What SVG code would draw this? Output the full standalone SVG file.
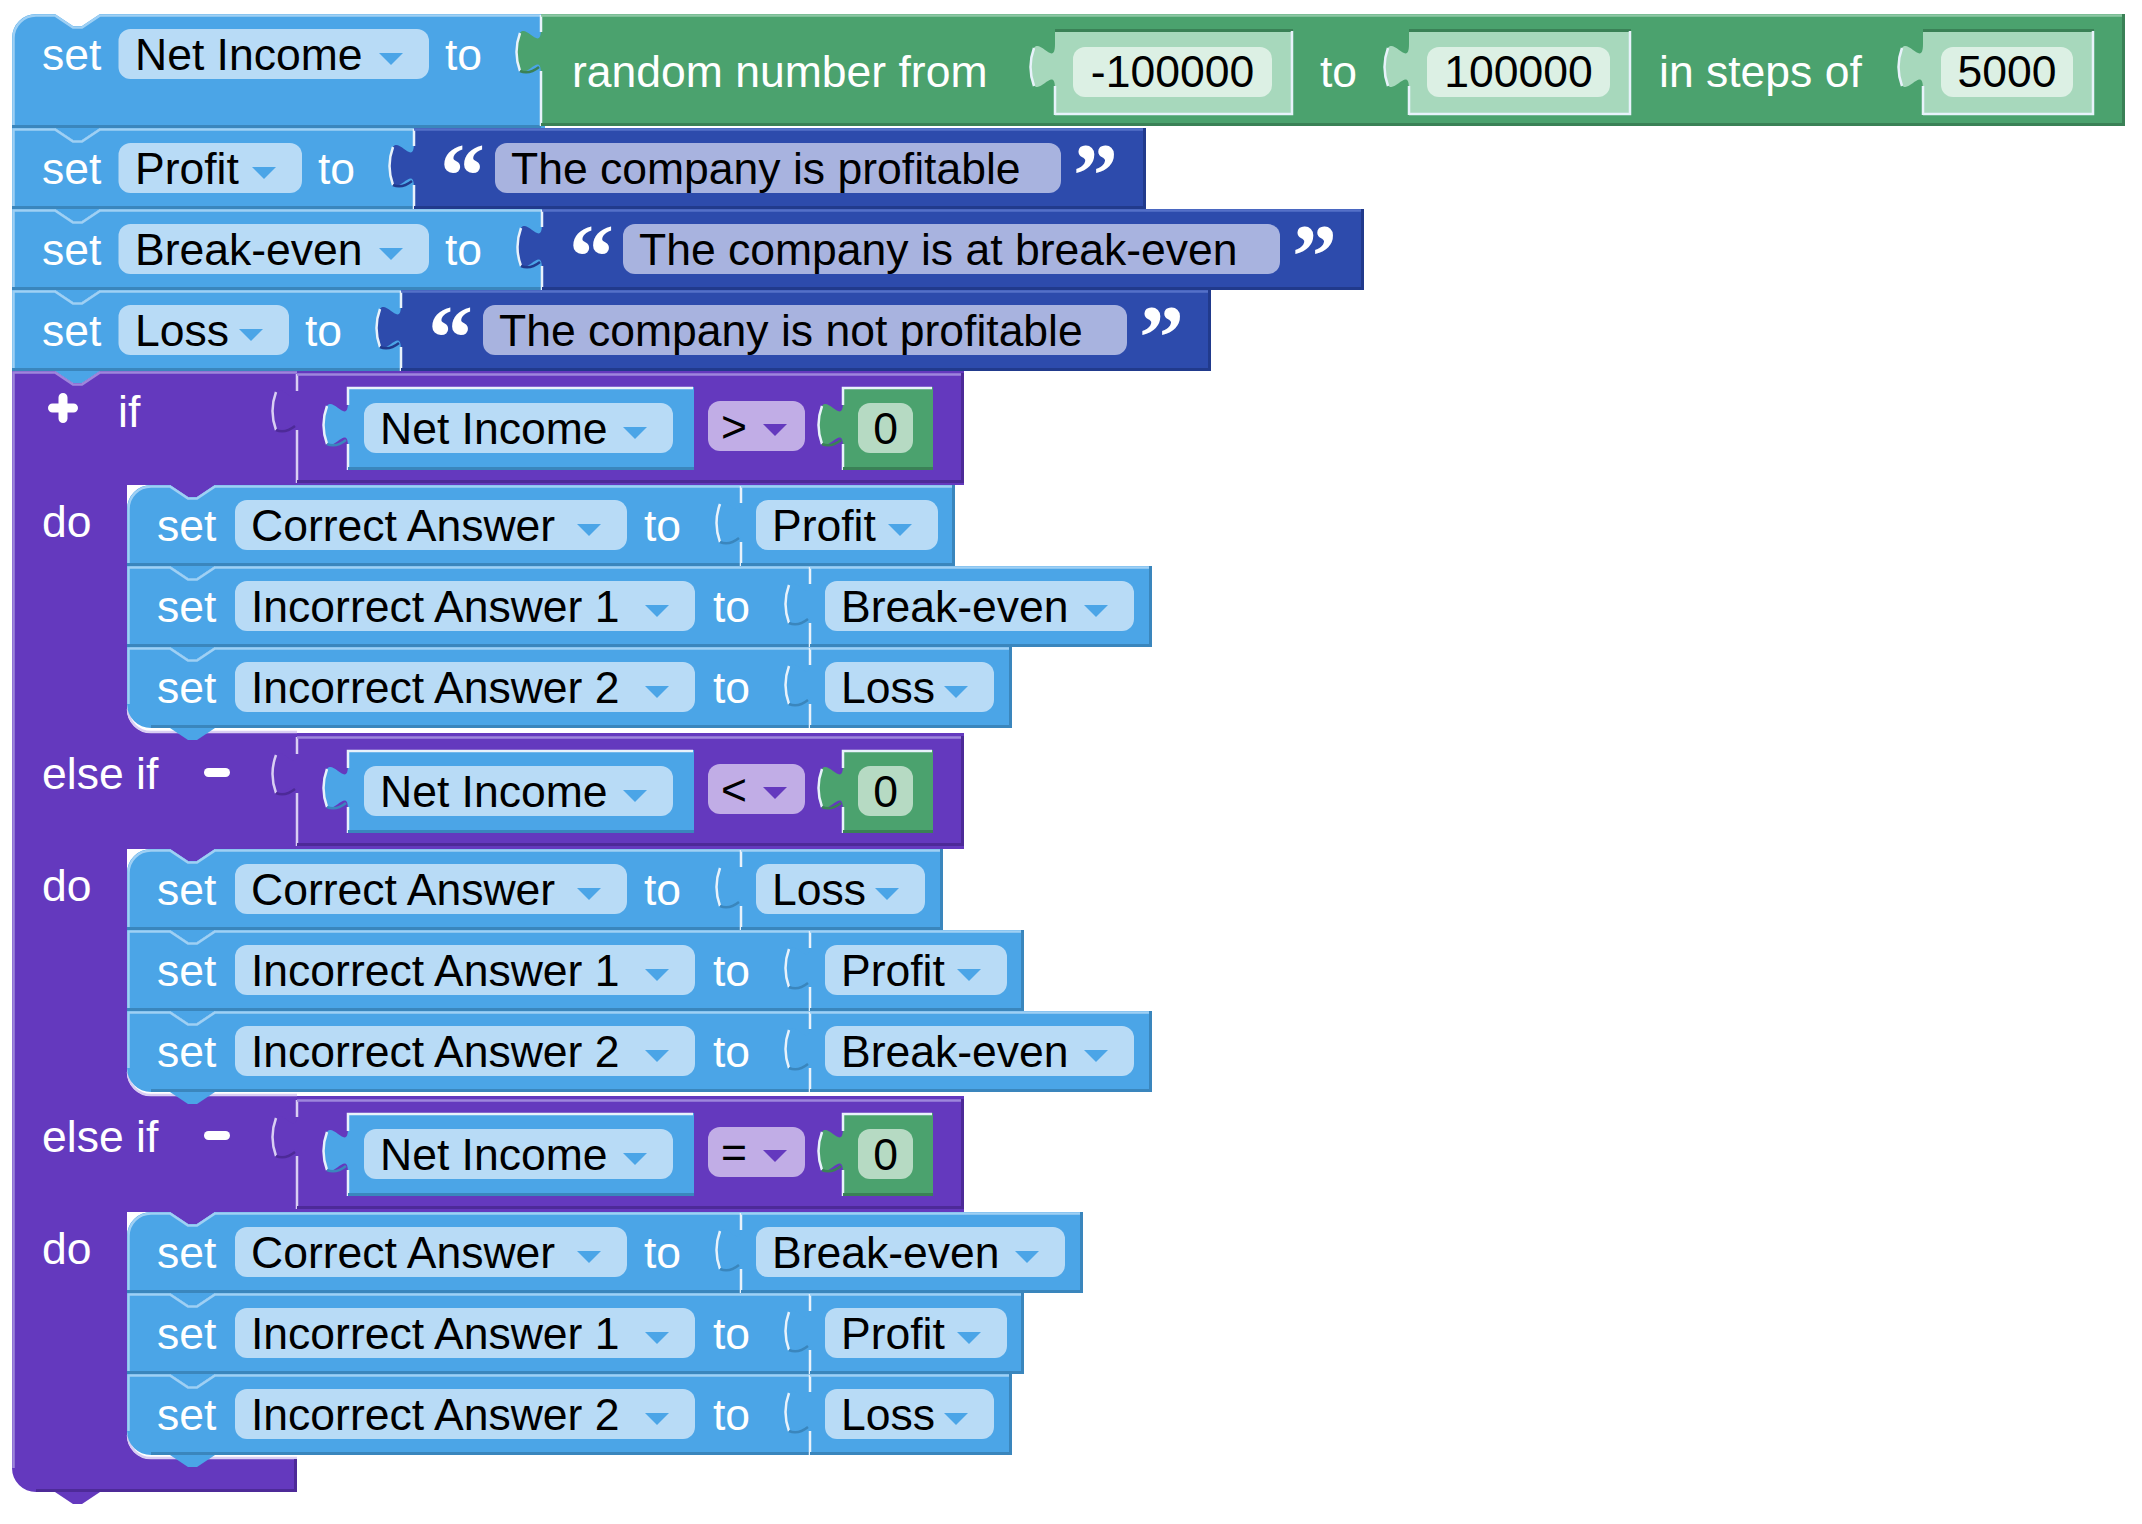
<svg xmlns="http://www.w3.org/2000/svg" width="2142" height="1524" viewBox="0 0 2142 1524">
<style>
text{font-family:"Liberation Sans",Arial,Helvetica,sans-serif;font-size:44.5px}
.w{fill:#fff}
.k{fill:#000}
.q{font-family:"Liberation Serif","Times New Roman",serif;font-weight:bold;font-size:90px;fill:#fff}
.bl{fill:#4BA5E7}
.bf{fill:#B8DBF6}
.st{fill:#2D4BAC}
.sf{fill:#A8B3DF}
.gr{fill:#4BA26E}
.sh{fill:#A7D8BC}
.shf{fill:#DCF0E4}
.pu{fill:#6439BE}
.op{fill:#C1ADE6}
.zf{fill:#B6DAC3}
.hl{fill:none;stroke-width:2.5}
.hb{stroke:#9FD0F4}
.hp{stroke:#9E86DC}
.hs{stroke:#5570C8}
.hg{stroke:#8CC7A4}
.hw{fill:none;stroke:#E8F2FB;stroke-width:2.5}
.hwp{fill:none;stroke:#D9CEF3;stroke-width:2.5}
.db{fill:none;stroke:#3A86BD;stroke-width:3}
.dp{fill:none;stroke:#4D2A98;stroke-width:3}
.ds{fill:none;stroke:#213A8C;stroke-width:3}
.dg{fill:none;stroke:#3A8156;stroke-width:3}
.ic{fill:none;stroke:#fff;stroke-width:9;stroke-linecap:round}
.tm{text-anchor:middle}
.tb{fill:#4BA5E7}
.tp{fill:#6439BE}
</style>
<defs>
<path id="tri" d="M0,0 H24 L12,12 Z"/>
</defs>
<g id="connectors"></g>

<g id="set-net-income">
<path class="bl" d="M12,38 A24,24 0 0 1 36,14 H55 l18,12 9,0 18,-12 H545 V128 H100 l-18,12 -9,0 -18,-12 H12 Z"/>
<path class="hl hb" d="M13.5,128 V38 A22.5,22.5 0 0 1 36,15.5 H55 l18,12 9,0 18,-12 H541"/>
<path class="db" d="M12,126.5 H541"/>
<text class="w" x="42" y="70">set</text>
<rect class="bf" x="118.5" y="29" width="310.5" height="50" rx="12"/>
<text class="k" x="135" y="70">Net Income</text>
<use href="#tri" x="379" y="53" class="tb"/>
<text class="w" x="445" y="70">to</text>
</g>

<g id="random-number">
<path class="gr" d="M541,14 H2125 V126 H541 V74 c0,-30 -24,25.5 -24,-22.5 s24,7.5 24,-22.5 Z"/>
<path class="hw" d="M541,126 V71 M520,71 Q513,52 520,33 M541,32 V15"/>
<path class="dg" style="stroke-width:2.5" d="M520,71 Q529,75 539,67"/>
<path class="hl hg" d="M541,15.5 H2124"/>
<path class="dg" d="M541,124.5 H2125 M2123.5,14 V126"/>
<text class="w" x="572" y="87">random number from</text>
<path class="sh" d="M1055,29 H1293 V115 H1055 V89 c0,-30 -24,25.5 -24,-22.5 s24,7.5 24,-22.5 Z"/>
<path class="dg" d="M1055,30.5 H1293"/>
<path class="hw" d="M1055,115 V86 M1034,86 Q1027,67 1034,48 M1055,114 H1292 V31"/>
<rect class="shf" x="1073" y="47" width="199" height="50" rx="12"/>
<text class="k tm" x="1172.5" y="87">-100000</text>
<text class="w" x="1320" y="87">to</text>
<path class="sh" d="M1409,29 H1631 V115 H1409 V89 c0,-30 -24,25.5 -24,-22.5 s24,7.5 24,-22.5 Z"/>
<path class="dg" d="M1409,30.5 H1631"/>
<path class="hw" d="M1409,115 V86 M1388,86 Q1381,67 1388,48 M1409,114 H1630 V31"/>
<rect class="shf" x="1427" y="47" width="183" height="50" rx="12"/>
<text class="k tm" x="1518.5" y="87">100000</text>
<text class="w" x="1659" y="87">in steps of</text>
<path class="sh" d="M1923,29 H2094 V115 H1923 V89 c0,-30 -24,25.5 -24,-22.5 s24,7.5 24,-22.5 Z"/>
<path class="dg" d="M1923,30.5 H2094"/>
<path class="hw" d="M1923,115 V86 M1902,86 Q1895,67 1902,48 M1923,114 H2093 V31"/>
<rect class="shf" x="1941" y="47" width="132" height="50" rx="12"/>
<text class="k tm" x="2007" y="87">5000</text>
</g>

<g id="set-profit">
<path class="bl" d="M12,128 H55 l18,12 9,0 18,-12 H418 V209 H100 l-18,12 -9,0 -18,-12 H12 Z"/>
<path class="hl hb" d="M13.5,209 V129.5 H55 l18,12 9,0 18,-12 H414"/>
<path class="db" d="M12,207.5 H414"/>
<text class="w" x="42" y="184">set</text>
<rect class="bf" x="118.5" y="143" width="183.5" height="50" rx="12"/>
<text class="k" x="135" y="184">Profit</text>
<use href="#tri" x="252" y="167" class="tb"/>
<text class="w" x="318" y="184">to</text>
</g>
<g id="text-profitable">
<path class="st" d="M414,128 H1146 V209 H414 V188 c0,-30 -24,25.5 -24,-22.5 s24,7.5 24,-22.5 Z"/>
<path class="hw" d="M414,209 V185 M393,185 Q386,166 393,147 M414,146 V129"/>
<path class="ds" style="stroke-width:2.5" d="M393,185 Q402,189 412,181"/>
<path class="hl hs" d="M414,129.5 H1145"/>
<path class="ds" d="M414,207.5 H1146 M1144.5,128 V209"/>
<text class="q" x="440" y="206">“</text>
<rect class="sf" x="495" y="143" width="566" height="50" rx="12"/>
<text class="k" x="511" y="184">The company is profitable</text>
<text class="q" x="1073" y="206">”</text>
</g>

<g id="set-break-even">
<path class="bl" d="M12,209 H55 l18,12 9,0 18,-12 H546 V290 H100 l-18,12 -9,0 -18,-12 H12 Z"/>
<path class="hl hb" d="M13.5,290 V210.5 H55 l18,12 9,0 18,-12 H542"/>
<path class="db" d="M12,288.5 H542"/>
<text class="w" x="42" y="265">set</text>
<rect class="bf" x="118.5" y="224" width="310.5" height="50" rx="12"/>
<text class="k" x="135" y="265">Break-even</text>
<use href="#tri" x="379" y="248" class="tb"/>
<text class="w" x="445" y="265">to</text>
</g>
<g id="text-break-even">
<path class="st" d="M542,209 H1364 V290 H542 V269 c0,-30 -24,25.5 -24,-22.5 s24,7.5 24,-22.5 Z"/>
<path class="hw" d="M542,290 V266 M521,266 Q514,247 521,228 M542,227 V210"/>
<path class="ds" style="stroke-width:2.5" d="M521,266 Q530,270 540,262"/>
<path class="hl hs" d="M542,210.5 H1363"/>
<path class="ds" d="M542,288.5 H1364 M1362.5,209 V290"/>
<text class="q" x="569" y="287">“</text>
<rect class="sf" x="623" y="224" width="657" height="50" rx="12"/>
<text class="k" x="639" y="265">The company is at break-even</text>
<text class="q" x="1292" y="287">”</text>
</g>

<g id="set-loss">
<path class="bl" d="M12,290 H55 l18,12 9,0 18,-12 H405 V371 H100 l-18,12 -9,0 -18,-12 H12 Z"/>
<path class="hl hb" d="M13.5,371 V291.5 H55 l18,12 9,0 18,-12 H401"/>
<path class="db" d="M12,369.5 H401"/>
<text class="w" x="42" y="346">set</text>
<rect class="bf" x="118.5" y="305" width="170.5" height="50" rx="12"/>
<text class="k" x="135" y="346">Loss</text>
<use href="#tri" x="239" y="329" class="tb"/>
<text class="w" x="305" y="346">to</text>
</g>
<g id="text-not-profitable">
<path class="st" d="M401,290 H1211 V371 H401 V350 c0,-30 -24,25.5 -24,-22.5 s24,7.5 24,-22.5 Z"/>
<path class="hw" d="M401,371 V347 M380,347 Q373,328 380,309 M401,308 V291"/>
<path class="ds" style="stroke-width:2.5" d="M380,347 Q389,351 399,343"/>
<path class="hl hs" d="M401,291.5 H1210"/>
<path class="ds" d="M401,369.5 H1211 M1209.5,290 V371"/>
<text class="q" x="428" y="368">“</text>
<rect class="sf" x="483" y="305" width="644" height="50" rx="12"/>
<text class="k" x="499" y="346">The company is not profitable</text>
<text class="q" x="1139" y="368">”</text>
</g>

<g id="if-block">
<path class="pu" d="M12,371 H55 l18,12 9,0 18,-12 H964 V485 H215 l-18,12 -9,0 -18,-12 H127 V709 a24,24 0 0 0 24,24 H964 V849 H215 l-18,12 -9,0 -18,-12 H127 V1072 a24,24 0 0 0 24,24 H964 V1212 H215 l-18,12 -9,0 -18,-12 H127 V1435 a24,24 0 0 0 24,24 H297 V1492 H100 l-18,12 -9,0 -18,-12 H36 a24,24 0 0 1 -24,-24 Z"/>
<path class="hl hp" d="M13.5,1468 V372.5 H55 l18,12 9,0 18,-12 H297"/>
<path class="hwp" d="M128,709 a23,23 0 0 0 23,23 H297 M128,1072 a23,23 0 0 0 23,23 H297 M128,1435 a23,23 0 0 0 23,23 H297"/>
<path class="dp" d="M36,1490.5 H297 M295.5,1459 V1492"/>
<path class="ic" d="M52.5,408 H73.5 M63,397.5 V418.5"/>
<text class="w" x="118" y="427">if</text>
<text class="w" x="42" y="537">do</text>
<text class="w" x="42" y="789">else if</text>
<path class="ic" d="M208.5,772.5 H225.5"/>
<text class="w" x="42" y="901">do</text>
<text class="w" x="42" y="1152">else if</text>
<path class="ic" d="M208.5,1135.5 H225.5"/>
<text class="w" x="42" y="1264">do</text>
</g>

<g id="compare-gt">
<path class="pu" d="M297,373 H964 V483 H297 V433 c0,-30 -24,25.5 -24,-22.5 s24,7.5 24,-22.5 Z"/>
<path class="hwp" d="M297,483 V430 M276,430 Q269,411 276,392 M297,391 V374"/>
<path class="dp" style="stroke-width:2.5" d="M276,430 Q285,434 295,426"/>
<path class="hl hp" d="M297,374.5 H963"/>
<path class="dp" d="M297,481.5 H964 M962.5,373 V483"/>
<path class="bl" d="M348,387 H694 V470 H348 V447 c0,-30 -24,25.5 -24,-22.5 s24,7.5 24,-22.5 Z"/>
<path class="hw" d="M348,470 V444 M327,444 Q320,425 327,406 M348,405 V388 H693"/>
<path class="db" style="stroke-width:2.5" d="M327,444 Q336,448 346,440"/>
<path class="db" d="M348,468.5 H694"/>
<rect class="bf" x="364" y="403" width="309" height="50" rx="12"/>
<text class="k" x="380" y="444">Net Income</text>
<use href="#tri" x="623" y="427" class="tb"/>
<rect class="op" x="708" y="401" width="97" height="50" rx="12"/>
<text class="k" x="721" y="442">&gt;</text>
<use href="#tri" x="763" y="424" class="tp"/>
<path class="gr" d="M843,387 H933 V470 H843 V447 c0,-30 -24,25.5 -24,-22.5 s24,7.5 24,-22.5 Z"/>
<path class="hw" d="M843,470 V444 M822,444 Q815,425 822,406 M843,405 V388 H932"/>
<path class="dg" style="stroke-width:2.5" d="M822,444 Q831,448 841,440"/>
<path class="dg" d="M843,468.5 H933"/>
<rect class="zf" x="858" y="403" width="55" height="50" rx="12"/>
<text class="k tm" x="885.5" y="444">0</text>
</g>

<g id="compare-lt">
<path class="pu" d="M297,736 H964 V846 H297 V796 c0,-30 -24,25.5 -24,-22.5 s24,7.5 24,-22.5 Z"/>
<path class="hwp" d="M297,846 V793 M276,793 Q269,774 276,755 M297,754 V737"/>
<path class="dp" style="stroke-width:2.5" d="M276,793 Q285,797 295,789"/>
<path class="hl hp" d="M297,737.5 H963"/>
<path class="dp" d="M297,844.5 H964 M962.5,736 V846"/>
<path class="bl" d="M348,750 H694 V833 H348 V810 c0,-30 -24,25.5 -24,-22.5 s24,7.5 24,-22.5 Z"/>
<path class="hw" d="M348,833 V807 M327,807 Q320,788 327,769 M348,768 V751 H693"/>
<path class="db" style="stroke-width:2.5" d="M327,807 Q336,811 346,803"/>
<path class="db" d="M348,831.5 H694"/>
<rect class="bf" x="364" y="766" width="309" height="50" rx="12"/>
<text class="k" x="380" y="807">Net Income</text>
<use href="#tri" x="623" y="790" class="tb"/>
<rect class="op" x="708" y="764" width="97" height="50" rx="12"/>
<text class="k" x="721" y="805">&lt;</text>
<use href="#tri" x="763" y="787" class="tp"/>
<path class="gr" d="M843,750 H933 V833 H843 V810 c0,-30 -24,25.5 -24,-22.5 s24,7.5 24,-22.5 Z"/>
<path class="hw" d="M843,833 V807 M822,807 Q815,788 822,769 M843,768 V751 H932"/>
<path class="dg" style="stroke-width:2.5" d="M822,807 Q831,811 841,803"/>
<path class="dg" d="M843,831.5 H933"/>
<rect class="zf" x="858" y="766" width="55" height="50" rx="12"/>
<text class="k tm" x="885.5" y="807">0</text>
</g>

<g id="compare-eq">
<path class="pu" d="M297,1099 H964 V1209 H297 V1159 c0,-30 -24,25.5 -24,-22.5 s24,7.5 24,-22.5 Z"/>
<path class="hwp" d="M297,1209 V1156 M276,1156 Q269,1137 276,1118 M297,1117 V1100"/>
<path class="dp" style="stroke-width:2.5" d="M276,1156 Q285,1160 295,1152"/>
<path class="hl hp" d="M297,1100.5 H963"/>
<path class="dp" d="M297,1207.5 H964 M962.5,1099 V1209"/>
<path class="bl" d="M348,1113 H694 V1196 H348 V1173 c0,-30 -24,25.5 -24,-22.5 s24,7.5 24,-22.5 Z"/>
<path class="hw" d="M348,1196 V1170 M327,1170 Q320,1151 327,1132 M348,1131 V1114 H693"/>
<path class="db" style="stroke-width:2.5" d="M327,1170 Q336,1174 346,1166"/>
<path class="db" d="M348,1194.5 H694"/>
<rect class="bf" x="364" y="1129" width="309" height="50" rx="12"/>
<text class="k" x="380" y="1170">Net Income</text>
<use href="#tri" x="623" y="1153" class="tb"/>
<rect class="op" x="708" y="1127" width="97" height="50" rx="12"/>
<text class="k" x="721" y="1168">=</text>
<use href="#tri" x="763" y="1150" class="tp"/>
<path class="gr" d="M843,1113 H933 V1196 H843 V1173 c0,-30 -24,25.5 -24,-22.5 s24,7.5 24,-22.5 Z"/>
<path class="hw" d="M843,1196 V1170 M822,1170 Q815,1151 822,1132 M843,1131 V1114 H932"/>
<path class="dg" style="stroke-width:2.5" d="M822,1170 Q831,1174 841,1166"/>
<path class="dg" d="M843,1194.5 H933"/>
<rect class="zf" x="858" y="1129" width="55" height="50" rx="12"/>
<text class="k tm" x="885.5" y="1170">0</text>
</g>

<g id="do1-correct">
<path class="bl" d="M127,509 a24,24 0 0 1 24,-24 H170 l18,12 9,0 18,-12 H745 V566 H215 l-18,12 -9,0 -18,-12 H127 Z"/>
<path class="hl hb" d="M128.5,566 V509 a22.5,22.5 0 0 1 22.5,-22.5 H170 l18,12 9,0 18,-12 H741"/>
<path class="db" d="M127,564.5 H741"/>
<text class="w" x="157" y="541">set</text>
<rect class="bf" x="235" y="500" width="392" height="50" rx="12"/>
<text class="k" x="251" y="541">Correct Answer</text>
<use href="#tri" x="577" y="524" class="tb"/>
<text class="w" x="644" y="541">to</text>
<path class="bl" d="M741,485 H955 V566 H741 V545 c0,-30 -24,25.5 -24,-22.5 s24,7.5 24,-22.5 Z"/>
<path class="hw" d="M741,566 V542 M720,542 Q713,523 720,504 M741,503 V486"/>
<path class="db" style="stroke-width:2.5" d="M720,542 Q729,546 739,538"/>
<path class="hl hb" d="M741,486.5 H954"/>
<path class="db" d="M741,564.5 H955 M953.5,485 V566"/>
<rect class="bf" x="756" y="500" width="182" height="50" rx="12"/>
<text class="k" x="772" y="541">Profit</text>
<use href="#tri" x="888" y="524" class="tb"/>
</g>
<g id="do1-incorrect1">
<path class="bl" d="M127,566 H170 l18,12 9,0 18,-12 H814 V647 H215 l-18,12 -9,0 -18,-12 H127 Z"/>
<path class="hl hb" d="M128.5,647 V567.5 H170 l18,12 9,0 18,-12 H810"/>
<path class="db" d="M127,645.5 H810"/>
<text class="w" x="157" y="622">set</text>
<rect class="bf" x="235" y="581" width="460" height="50" rx="12"/>
<text class="k" x="251" y="622">Incorrect Answer 1</text>
<use href="#tri" x="645" y="605" class="tb"/>
<text class="w" x="713" y="622">to</text>
<path class="bl" d="M810,566 H1152 V647 H810 V626 c0,-30 -24,25.5 -24,-22.5 s24,7.5 24,-22.5 Z"/>
<path class="hw" d="M810,647 V623 M789,623 Q782,604 789,585 M810,584 V567"/>
<path class="db" style="stroke-width:2.5" d="M789,623 Q798,627 808,619"/>
<path class="hl hb" d="M810,567.5 H1151"/>
<path class="db" d="M810,645.5 H1152 M1150.5,566 V647"/>
<rect class="bf" x="825" y="581" width="309" height="50" rx="12"/>
<text class="k" x="841" y="622">Break-even</text>
<use href="#tri" x="1084" y="605" class="tb"/>
</g>
<g id="do1-incorrect2">
<path class="bl" d="M127,647 H170 l18,12 9,0 18,-12 H814 V728 H215 l-18,12 -9,0 -18,-12 H151 a24,24 0 0 1 -24,-24 Z"/>
<path class="hl hb" d="M128.5,704 V648.5 H170 l18,12 9,0 18,-12 H810"/>
<path class="db" d="M151,726.5 H810"/>
<text class="w" x="157" y="703">set</text>
<rect class="bf" x="235" y="662" width="460" height="50" rx="12"/>
<text class="k" x="251" y="703">Incorrect Answer 2</text>
<use href="#tri" x="645" y="686" class="tb"/>
<text class="w" x="713" y="703">to</text>
<path class="bl" d="M810,647 H1012 V728 H810 V707 c0,-30 -24,25.5 -24,-22.5 s24,7.5 24,-22.5 Z"/>
<path class="hw" d="M810,728 V704 M789,704 Q782,685 789,666 M810,665 V648"/>
<path class="db" style="stroke-width:2.5" d="M789,704 Q798,708 808,700"/>
<path class="hl hb" d="M810,648.5 H1011"/>
<path class="db" d="M810,726.5 H1012 M1010.5,647 V728"/>
<rect class="bf" x="825" y="662" width="169" height="50" rx="12"/>
<text class="k" x="841" y="703">Loss</text>
<use href="#tri" x="944" y="686" class="tb"/>
</g>

<g id="do2-correct">
<path class="bl" d="M127,873 a24,24 0 0 1 24,-24 H170 l18,12 9,0 18,-12 H745 V930 H215 l-18,12 -9,0 -18,-12 H127 Z"/>
<path class="hl hb" d="M128.5,930 V873 a22.5,22.5 0 0 1 22.5,-22.5 H170 l18,12 9,0 18,-12 H741"/>
<path class="db" d="M127,928.5 H741"/>
<text class="w" x="157" y="905">set</text>
<rect class="bf" x="235" y="864" width="392" height="50" rx="12"/>
<text class="k" x="251" y="905">Correct Answer</text>
<use href="#tri" x="577" y="888" class="tb"/>
<text class="w" x="644" y="905">to</text>
<path class="bl" d="M741,849 H943 V930 H741 V909 c0,-30 -24,25.5 -24,-22.5 s24,7.5 24,-22.5 Z"/>
<path class="hw" d="M741,930 V906 M720,906 Q713,887 720,868 M741,867 V850"/>
<path class="db" style="stroke-width:2.5" d="M720,906 Q729,910 739,902"/>
<path class="hl hb" d="M741,850.5 H942"/>
<path class="db" d="M741,928.5 H943 M941.5,849 V930"/>
<rect class="bf" x="756" y="864" width="169" height="50" rx="12"/>
<text class="k" x="772" y="905">Loss</text>
<use href="#tri" x="875" y="888" class="tb"/>
</g>
<g id="do2-incorrect1">
<path class="bl" d="M127,930 H170 l18,12 9,0 18,-12 H814 V1011 H215 l-18,12 -9,0 -18,-12 H127 Z"/>
<path class="hl hb" d="M128.5,1011 V931.5 H170 l18,12 9,0 18,-12 H810"/>
<path class="db" d="M127,1009.5 H810"/>
<text class="w" x="157" y="986">set</text>
<rect class="bf" x="235" y="945" width="460" height="50" rx="12"/>
<text class="k" x="251" y="986">Incorrect Answer 1</text>
<use href="#tri" x="645" y="969" class="tb"/>
<text class="w" x="713" y="986">to</text>
<path class="bl" d="M810,930 H1024 V1011 H810 V990 c0,-30 -24,25.5 -24,-22.5 s24,7.5 24,-22.5 Z"/>
<path class="hw" d="M810,1011 V987 M789,987 Q782,968 789,949 M810,948 V931"/>
<path class="db" style="stroke-width:2.5" d="M789,987 Q798,991 808,983"/>
<path class="hl hb" d="M810,931.5 H1023"/>
<path class="db" d="M810,1009.5 H1024 M1022.5,930 V1011"/>
<rect class="bf" x="825" y="945" width="182" height="50" rx="12"/>
<text class="k" x="841" y="986">Profit</text>
<use href="#tri" x="957" y="969" class="tb"/>
</g>
<g id="do2-incorrect2">
<path class="bl" d="M127,1011 H170 l18,12 9,0 18,-12 H814 V1092 H215 l-18,12 -9,0 -18,-12 H151 a24,24 0 0 1 -24,-24 Z"/>
<path class="hl hb" d="M128.5,1068 V1012.5 H170 l18,12 9,0 18,-12 H810"/>
<path class="db" d="M151,1090.5 H810"/>
<text class="w" x="157" y="1067">set</text>
<rect class="bf" x="235" y="1026" width="460" height="50" rx="12"/>
<text class="k" x="251" y="1067">Incorrect Answer 2</text>
<use href="#tri" x="645" y="1050" class="tb"/>
<text class="w" x="713" y="1067">to</text>
<path class="bl" d="M810,1011 H1152 V1092 H810 V1071 c0,-30 -24,25.5 -24,-22.5 s24,7.5 24,-22.5 Z"/>
<path class="hw" d="M810,1092 V1068 M789,1068 Q782,1049 789,1030 M810,1029 V1012"/>
<path class="db" style="stroke-width:2.5" d="M789,1068 Q798,1072 808,1064"/>
<path class="hl hb" d="M810,1012.5 H1151"/>
<path class="db" d="M810,1090.5 H1152 M1150.5,1011 V1092"/>
<rect class="bf" x="825" y="1026" width="309" height="50" rx="12"/>
<text class="k" x="841" y="1067">Break-even</text>
<use href="#tri" x="1084" y="1050" class="tb"/>
</g>

<g id="do3-correct">
<path class="bl" d="M127,1236 a24,24 0 0 1 24,-24 H170 l18,12 9,0 18,-12 H745 V1293 H215 l-18,12 -9,0 -18,-12 H127 Z"/>
<path class="hl hb" d="M128.5,1293 V1236 a22.5,22.5 0 0 1 22.5,-22.5 H170 l18,12 9,0 18,-12 H741"/>
<path class="db" d="M127,1291.5 H741"/>
<text class="w" x="157" y="1268">set</text>
<rect class="bf" x="235" y="1227" width="392" height="50" rx="12"/>
<text class="k" x="251" y="1268">Correct Answer</text>
<use href="#tri" x="577" y="1251" class="tb"/>
<text class="w" x="644" y="1268">to</text>
<path class="bl" d="M741,1212 H1083 V1293 H741 V1272 c0,-30 -24,25.5 -24,-22.5 s24,7.5 24,-22.5 Z"/>
<path class="hw" d="M741,1293 V1269 M720,1269 Q713,1250 720,1231 M741,1230 V1213"/>
<path class="db" style="stroke-width:2.5" d="M720,1269 Q729,1273 739,1265"/>
<path class="hl hb" d="M741,1213.5 H1082"/>
<path class="db" d="M741,1291.5 H1083 M1081.5,1212 V1293"/>
<rect class="bf" x="756" y="1227" width="309" height="50" rx="12"/>
<text class="k" x="772" y="1268">Break-even</text>
<use href="#tri" x="1015" y="1251" class="tb"/>
</g>
<g id="do3-incorrect1">
<path class="bl" d="M127,1293 H170 l18,12 9,0 18,-12 H814 V1374 H215 l-18,12 -9,0 -18,-12 H127 Z"/>
<path class="hl hb" d="M128.5,1374 V1294.5 H170 l18,12 9,0 18,-12 H810"/>
<path class="db" d="M127,1372.5 H810"/>
<text class="w" x="157" y="1349">set</text>
<rect class="bf" x="235" y="1308" width="460" height="50" rx="12"/>
<text class="k" x="251" y="1349">Incorrect Answer 1</text>
<use href="#tri" x="645" y="1332" class="tb"/>
<text class="w" x="713" y="1349">to</text>
<path class="bl" d="M810,1293 H1024 V1374 H810 V1353 c0,-30 -24,25.5 -24,-22.5 s24,7.5 24,-22.5 Z"/>
<path class="hw" d="M810,1374 V1350 M789,1350 Q782,1331 789,1312 M810,1311 V1294"/>
<path class="db" style="stroke-width:2.5" d="M789,1350 Q798,1354 808,1346"/>
<path class="hl hb" d="M810,1294.5 H1023"/>
<path class="db" d="M810,1372.5 H1024 M1022.5,1293 V1374"/>
<rect class="bf" x="825" y="1308" width="182" height="50" rx="12"/>
<text class="k" x="841" y="1349">Profit</text>
<use href="#tri" x="957" y="1332" class="tb"/>
</g>
<g id="do3-incorrect2">
<path class="bl" d="M127,1374 H170 l18,12 9,0 18,-12 H814 V1455 H215 l-18,12 -9,0 -18,-12 H151 a24,24 0 0 1 -24,-24 Z"/>
<path class="hl hb" d="M128.5,1431 V1375.5 H170 l18,12 9,0 18,-12 H810"/>
<path class="db" d="M151,1453.5 H810"/>
<text class="w" x="157" y="1430">set</text>
<rect class="bf" x="235" y="1389" width="460" height="50" rx="12"/>
<text class="k" x="251" y="1430">Incorrect Answer 2</text>
<use href="#tri" x="645" y="1413" class="tb"/>
<text class="w" x="713" y="1430">to</text>
<path class="bl" d="M810,1374 H1012 V1455 H810 V1434 c0,-30 -24,25.5 -24,-22.5 s24,7.5 24,-22.5 Z"/>
<path class="hw" d="M810,1455 V1431 M789,1431 Q782,1412 789,1393 M810,1392 V1375"/>
<path class="db" style="stroke-width:2.5" d="M789,1431 Q798,1435 808,1427"/>
<path class="hl hb" d="M810,1375.5 H1011"/>
<path class="db" d="M810,1453.5 H1012 M1010.5,1374 V1455"/>
<rect class="bf" x="825" y="1389" width="169" height="50" rx="12"/>
<text class="k" x="841" y="1430">Loss</text>
<use href="#tri" x="944" y="1413" class="tb"/>
</g>
</svg>
